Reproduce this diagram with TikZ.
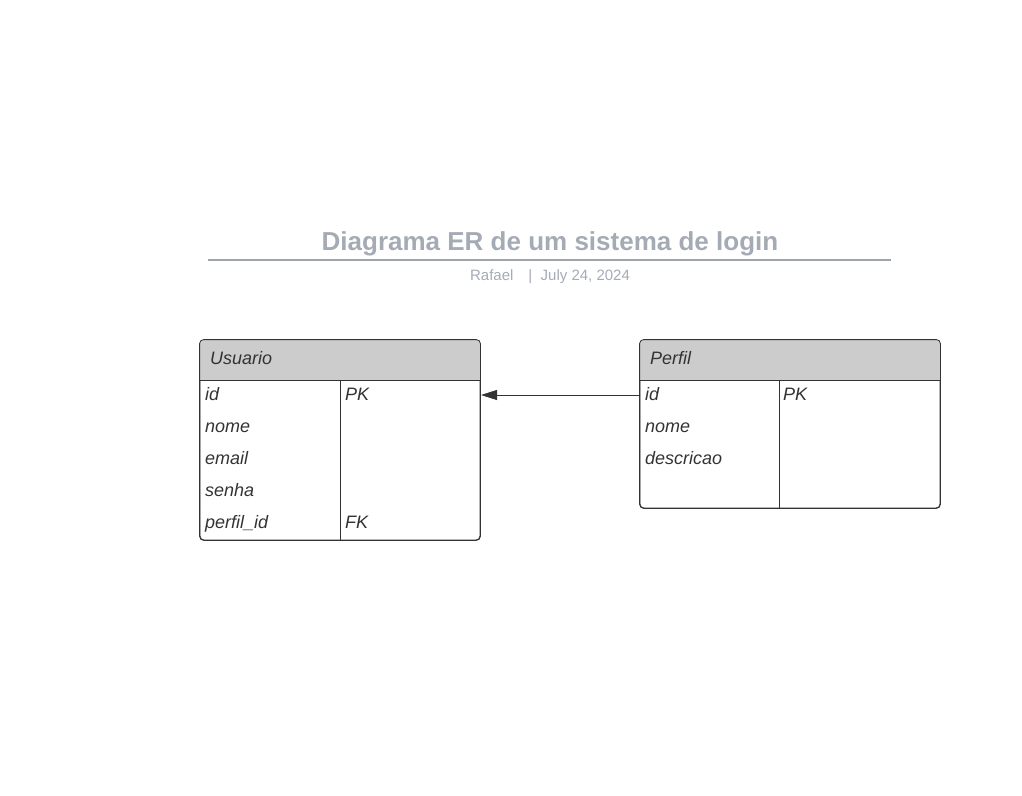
\documentclass[tikz,border=0pt]{standalone}
\usepackage{fontspec}
\setmainfont{Liberation Sans}
\usetikzlibrary{arrows.meta, positioning}
\definecolor{erTitle}{HTML}{A5ABB5}
\definecolor{erRule}{HTML}{9EA6AB}
\definecolor{erHead}{HTML}{CCCCCC}
\definecolor{erInk}{HTML}{333333}
\tikzset{
  erbox/.style={draw=erInk, line width=0.8pt, rounded corners=4pt, inner sep=0pt},
  erhead/.style={font=\fontsize{18}{21}\selectfont\itshape, text=erInk, anchor=base west, inner sep=0pt},
  erfield/.style={font=\fontsize{18}{21}\selectfont\itshape, text=erInk, anchor=base west, inner sep=0pt},
  erline/.style={erInk, line width=0.8pt},
  relarrow/.style={-{Triangle[length=16pt, width=10pt]}, erInk, line width=0.8pt},
  titletext/.style={font=\fontsize{26}{30}\selectfont\bfseries, text=erTitle, anchor=base},
  subtext/.style={font=\fontsize{15}{18}\selectfont, text=erTitle, anchor=base}
}
\begin{document}
\begin{tikzpicture}[x=1pt, y=-1pt]
  \useasboundingbox (0,0) rectangle (1022,795);
  % title
  \node[titletext] (title) at (550,250) {Diagrama ER de um sistema de login};
  \coordinate (ruleL) at (208,260);
  \coordinate (ruleR) at (891,260);
  \draw[erRule, line width=2pt] (ruleL) -- (ruleR);
  \node[subtext] (sub) at (550,280) {Rafael\quad|\ \ July 24, 2024};

  % Usuario
  \node[erbox, minimum width=280pt, minimum height=200pt] (usuario) at (340,440) {};
  \begin{scope}
    \clip (200,340) rectangle (480,380);
    \fill[erHead, rounded corners=4pt] (usuario.north west) rectangle (usuario.south east);
  \end{scope}
  \draw[erbox] (usuario.north west) rectangle (usuario.south east);
  \draw[erline] (200,380) -- (480,380);
  \draw[erline] (340,380) -- (usuario.south -| 340,0);
  \node[erhead] (usuarioHead) at (210,364) {Usuario};
  \foreach \f [count=\i] in {id, nome, email, senha, perfil\_id}
    \node[erfield] (u-\i) at (205,368+32*\i) {\f};
  \node[erfield] (u-pk) at (345,400) {PK};
  \node[erfield] (u-fk) at (345,528) {FK};

  % Perfil
  \node[erbox, minimum width=300pt, minimum height=168pt] (perfil) at (790,424) {};
  \begin{scope}
    \clip (640,340) rectangle (940,380);
    \fill[erHead, rounded corners=4pt] (perfil.north west) rectangle (perfil.south east);
  \end{scope}
  \draw[erbox] (perfil.north west) rectangle (perfil.south east);
  \draw[erline] (640,380) -- (940,380);
  \draw[erline] (779,380) -- (perfil.south -| 779,0);
  \node[erhead] (perfilHead) at (650,364) {Perfil};
  \foreach \f [count=\i] in {id, nome, descricao}
    \node[erfield] (p-\i) at (645,368+32*\i) {\f};
  \node[erfield] (p-pk) at (783,400) {PK};

  % relation
  \coordinate (relStart) at (640,395);
  \coordinate (relEnd) at (481,395);
  \draw[relarrow] (relStart) -- (relEnd);
\end{tikzpicture}
\end{document}
